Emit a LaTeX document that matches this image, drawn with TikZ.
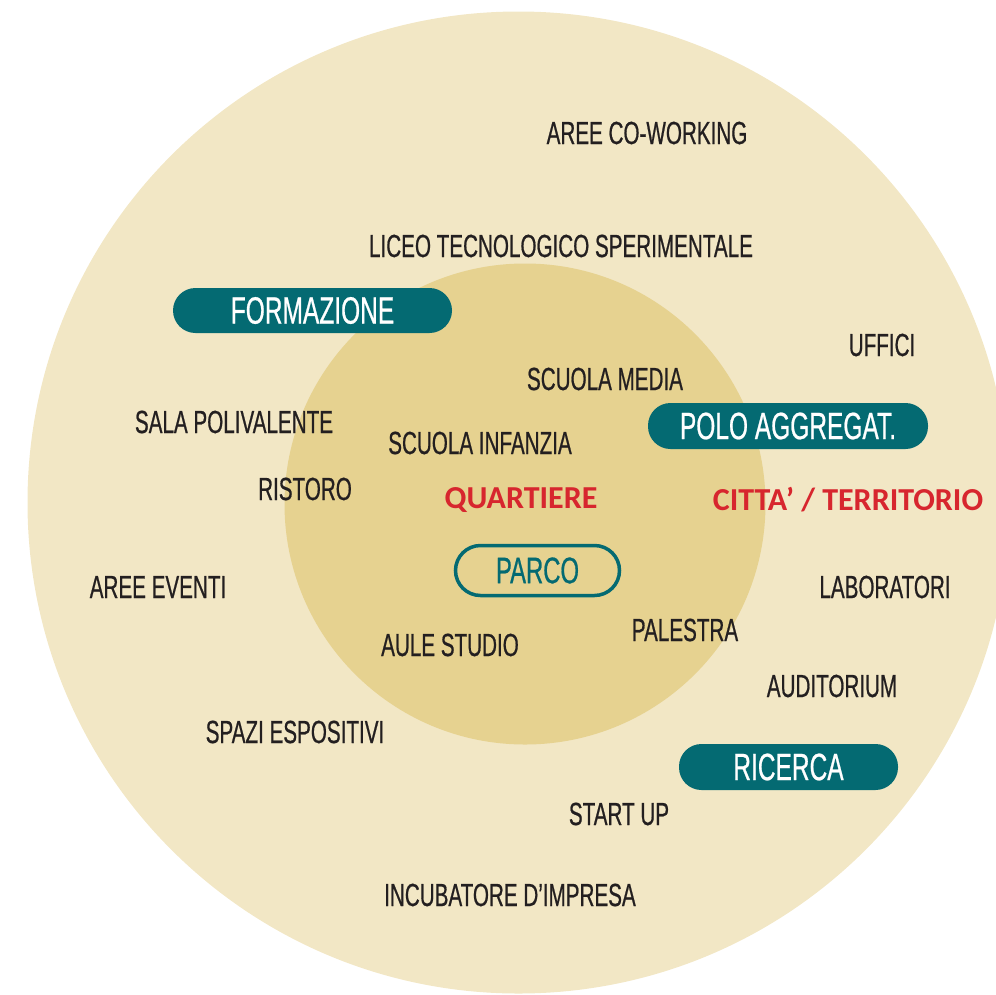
\documentclass[tikz,border=0pt]{standalone}
\usepackage{fontspec}
\setmainfont{Liberation Sans}[FakeStretch=0.645, FakeBold=0.6]
\newfontfamily\redfont{Carlito}[BoldFont={* Bold}]
\definecolor{outerbg}{HTML}{F2E7C5}
\definecolor{innerbg}{HTML}{E6D290}
\definecolor{tealc}{HTML}{046A72}
\definecolor{redc}{HTML}{D7262E}
\definecolor{txt}{HTML}{231F20}
\tikzset{
  lbl/.style={text=txt, font=\fontsize{32}{34}\selectfont, inner sep=0pt, anchor=center},
  redlbl/.style={text=redc, font=\redfont\bfseries\fontsize{32}{34}\selectfont, inner sep=0pt, anchor=center},
  pillbox/.style={fill=tealc, text=white, rounded corners=22.5pt, inner sep=0pt,
    font=\fontsize{38}{40}\selectfont, anchor=center},
  pilloutline/.style={draw=tealc, line width=3.5pt, text=tealc, rounded corners=25pt, inner sep=0pt,
    font=\fontsize{37}{39}\selectfont, anchor=center}
}
\begin{document}
\begin{tikzpicture}[x=1pt,y=-1pt]
\useasboundingbox (0,0) rectangle (996,994);
\clip (0,0) rectangle (996,994);
\fill[outerbg] (518.5,502.5) circle (491pt);
\fill[innerbg] (525,504) circle (240.5pt);

\node[lbl] (cowork) at (647,133) {AREE CO-WORKING};
\node[lbl] (liceo) at (561,246) {LICEO TECNOLOGICO SPERIMENTALE};
\node[pillbox, minimum width=279pt, minimum height=45pt] (formazione) at (312.5,310.5) {FORMAZIONE};
\node[lbl] (uffici) at (882,345) {UFFICI};
\node[lbl] (media) at (605,379) {SCUOLA MEDIA};
\node[pillbox, minimum width=280pt, minimum height=46pt] (polo) at (788,426) {POLO AGGREGAT.};
\node[lbl] (sala) at (234,422) {SALA POLIVALENTE};
\node[lbl] (infanzia) at (480,443) {SCUOLA INFANZIA};
\node[lbl] (ristoro) at (305,489) {RISTORO};
\node[redlbl] (quartiere) at (521,500) {QUARTIERE};
\node[redlbl] (citta) at (848,500) {CITTA’ / TERRITORIO};
\node[pilloutline, minimum width=164pt, minimum height=50pt] (parco) at (537.5,570.5) {PARCO};
\node[lbl] (eventi) at (158,587) {AREE EVENTI};
\node[lbl] (lab) at (885,587) {LABORATORI};
\node[lbl] (palestra) at (685,630) {PALESTRA};
\node[lbl] (aule) at (450,645) {AULE STUDIO};
\node[lbl] (auditorium) at (832,686) {AUDITORIUM};
\node[lbl] (spazi) at (295,732) {SPAZI ESPOSITIVI};
\node[pillbox, minimum width=219pt, minimum height=46pt] (ricerca) at (788.5,767) {RICERCA};
\node[lbl] (startup) at (619,814) {START UP};
\node[lbl] (incubatore) at (510,895) {INCUBATORE D’IMPRESA};
\end{tikzpicture}
\end{document}
